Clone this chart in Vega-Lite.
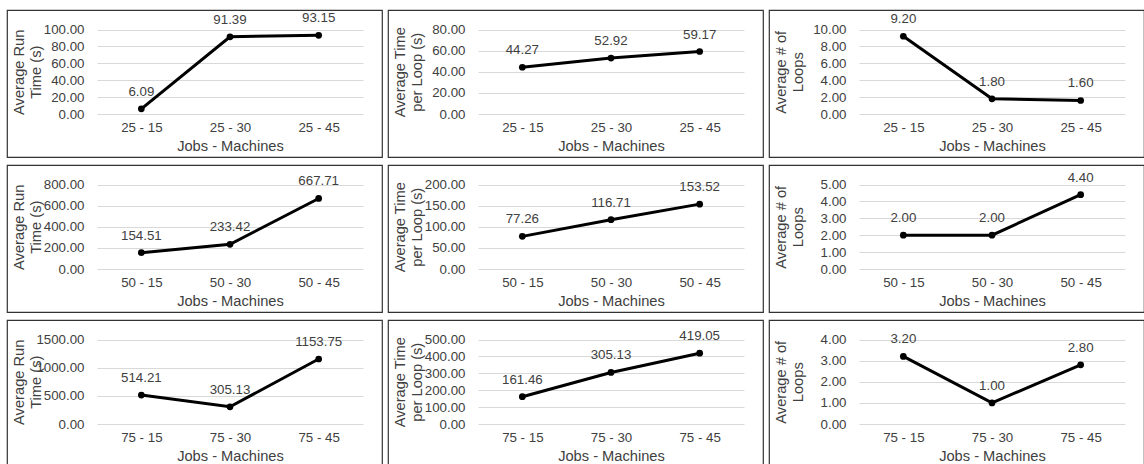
{
  "$schema": "https://vega.github.io/schema/vega-lite/v6.json",
  "padding": {"left": 6, "top": 9, "right": 0, "bottom": 0},
  "background": "white",
  "config": {
    "view": {"stroke": "#333333", "strokeWidth": 1.2},
    "font": "Liberation Sans",
    "axis": {
      "labelFont": "Liberation Sans", "labelFontSize": 13.3, "labelColor": "#404040",
      "titleFont": "Liberation Sans", "titleFontSize": 14.67, "titleColor": "#404040", "titleFontWeight": "normal",
      "titleLineHeight": 17, "ticks": false, "domain": false, "gridColor": "#d9d9d9", "gridWidth": 1
    },
    "axisX": {"grid": false, "labelAngle": 0, "offset": -43, "labelPadding": 6, "titlePadding": 5},
    "axisY": {"grid": true, "offset": 0, "labelPadding": -77, "titleX": 19, "format": ".2f"},
    "line": {"color": "black", "strokeWidth": 3},
    "point": {"color": "black", "filled": true, "size": 45, "opacity": 1},
    "text": {"font": "Liberation Sans", "fontSize": 13.3, "color": "#404040", "dy": -17}
  },
  "spacing": {"row": 6, "column": 4},
  "columns": 3,
  "datasets": {
    "p1": [{"config": "25 - 15", "value": 6.09}, {"config": "25 - 30", "value": 91.39}, {"config": "25 - 45", "value": 93.15}],
    "p2": [{"config": "25 - 15", "value": 44.27}, {"config": "25 - 30", "value": 52.92}, {"config": "25 - 45", "value": 59.17}],
    "p3": [{"config": "25 - 15", "value": 9.2}, {"config": "25 - 30", "value": 1.8}, {"config": "25 - 45", "value": 1.6}],
    "p4": [{"config": "50 - 15", "value": 154.51}, {"config": "50 - 30", "value": 233.42}, {"config": "50 - 45", "value": 667.71}],
    "p5": [{"config": "50 - 15", "value": 77.26}, {"config": "50 - 30", "value": 116.71}, {"config": "50 - 45", "value": 153.52}],
    "p6": [{"config": "50 - 15", "value": 2.0}, {"config": "50 - 30", "value": 2.0}, {"config": "50 - 45", "value": 4.4}],
    "p7": [{"config": "75 - 15", "value": 514.21}, {"config": "75 - 30", "value": 305.13}, {"config": "75 - 45", "value": 1153.75}],
    "p8": [{"config": "75 - 15", "value": 161.46}, {"config": "75 - 30", "value": 305.13}, {"config": "75 - 45", "value": 419.05}],
    "p9": [{"config": "75 - 15", "value": 3.2}, {"config": "75 - 30", "value": 1.0}, {"config": "75 - 45", "value": 2.8}]
  },
  "concat": [
    {
      "width": 375, "height": 147, "data": {"name": "p1"},
      "encoding": {
        "x": {"field": "config", "type": "ordinal", "sort": null, "scale": {"type": "point", "range": [90, 356], "padding": 0.5}, "axis": {"title": "Jobs - Machines"}},
        "y": {"field": "value", "type": "quantitative", "scale": {"domain": [0, 100], "range": [104, 19.5], "nice": false}, "axis": {"values": [0, 20, 40, 60, 80, 100], "title": ["Average Run", "Time (s)"]}}
      },
      "layer": [{"mark": "line", "encoding": {}}, {"mark": "point"}, {"mark": "text", "encoding": {"text": {"field": "value", "format": ".2f"}}}]
    },
    {
      "width": 375, "height": 147, "data": {"name": "p2"},
      "encoding": {
        "x": {"field": "config", "type": "ordinal", "sort": null, "scale": {"type": "point", "range": [90, 356], "padding": 0.5}, "axis": {"title": "Jobs - Machines"}},
        "y": {"field": "value", "type": "quantitative", "scale": {"domain": [0, 80], "range": [104, 19.5], "nice": false}, "axis": {"values": [0, 20, 40, 60, 80], "title": ["Average Time", "per Loop (s)"]}}
      },
      "layer": [{"mark": "line", "encoding": {}}, {"mark": "point"}, {"mark": "text", "encoding": {"text": {"field": "value", "format": ".2f"}}}]
    },
    {
      "width": 375, "height": 147, "data": {"name": "p3"},
      "encoding": {
        "x": {"field": "config", "type": "ordinal", "sort": null, "scale": {"type": "point", "range": [90, 356], "padding": 0.5}, "axis": {"title": "Jobs - Machines"}},
        "y": {"field": "value", "type": "quantitative", "scale": {"domain": [0, 10], "range": [104, 19.5], "nice": false}, "axis": {"values": [0, 2, 4, 6, 8, 10], "title": ["Average # of", "Loops"]}}
      },
      "layer": [{"mark": "line", "encoding": {}}, {"mark": "point"}, {"mark": "text", "encoding": {"text": {"field": "value", "format": ".2f"}}}]
    },
    {
      "width": 375, "height": 147, "data": {"name": "p4"},
      "encoding": {
        "x": {"field": "config", "type": "ordinal", "sort": null, "scale": {"type": "point", "range": [90, 356], "padding": 0.5}, "axis": {"title": "Jobs - Machines"}},
        "y": {"field": "value", "type": "quantitative", "scale": {"domain": [0, 800], "range": [104, 19.5], "nice": false}, "axis": {"values": [0, 200, 400, 600, 800], "title": ["Average Run", "Time (s)"]}}
      },
      "layer": [{"mark": "line", "encoding": {}}, {"mark": "point"}, {"mark": "text", "encoding": {"text": {"field": "value", "format": ".2f"}}}]
    },
    {
      "width": 375, "height": 147, "data": {"name": "p5"},
      "encoding": {
        "x": {"field": "config", "type": "ordinal", "sort": null, "scale": {"type": "point", "range": [90, 356], "padding": 0.5}, "axis": {"title": "Jobs - Machines"}},
        "y": {"field": "value", "type": "quantitative", "scale": {"domain": [0, 200], "range": [104, 19.5], "nice": false}, "axis": {"values": [0, 50, 100, 150, 200], "title": ["Average Time", "per Loop (s)"]}}
      },
      "layer": [{"mark": "line", "encoding": {}}, {"mark": "point"}, {"mark": "text", "encoding": {"text": {"field": "value", "format": ".2f"}}}]
    },
    {
      "width": 375, "height": 147, "data": {"name": "p6"},
      "encoding": {
        "x": {"field": "config", "type": "ordinal", "sort": null, "scale": {"type": "point", "range": [90, 356], "padding": 0.5}, "axis": {"title": "Jobs - Machines"}},
        "y": {"field": "value", "type": "quantitative", "scale": {"domain": [0, 5], "range": [104, 19.5], "nice": false}, "axis": {"values": [0, 1, 2, 3, 4, 5], "title": ["Average # of", "Loops"]}}
      },
      "layer": [{"mark": "line", "encoding": {}}, {"mark": "point"}, {"mark": "text", "encoding": {"text": {"field": "value", "format": ".2f"}}}]
    },
    {
      "width": 375, "height": 147, "data": {"name": "p7"},
      "encoding": {
        "x": {"field": "config", "type": "ordinal", "sort": null, "scale": {"type": "point", "range": [90, 356], "padding": 0.5}, "axis": {"title": "Jobs - Machines"}},
        "y": {"field": "value", "type": "quantitative", "scale": {"domain": [0, 1500], "range": [104, 19.5], "nice": false}, "axis": {"values": [0, 500, 1000, 1500], "title": ["Average Run", "Time (s)"]}}
      },
      "layer": [{"mark": "line", "encoding": {}}, {"mark": "point"}, {"mark": "text", "encoding": {"text": {"field": "value", "format": ".2f"}}}]
    },
    {
      "width": 375, "height": 147, "data": {"name": "p8"},
      "encoding": {
        "x": {"field": "config", "type": "ordinal", "sort": null, "scale": {"type": "point", "range": [90, 356], "padding": 0.5}, "axis": {"title": "Jobs - Machines"}},
        "y": {"field": "value", "type": "quantitative", "scale": {"domain": [0, 500], "range": [104, 19.5], "nice": false}, "axis": {"values": [0, 100, 200, 300, 400, 500], "title": ["Average Time", "per Loop (s)"]}}
      },
      "layer": [{"mark": "line", "encoding": {}}, {"mark": "point"}, {"mark": "text", "encoding": {"text": {"field": "value", "format": ".2f"}}}]
    },
    {
      "width": 375, "height": 147, "data": {"name": "p9"},
      "encoding": {
        "x": {"field": "config", "type": "ordinal", "sort": null, "scale": {"type": "point", "range": [90, 356], "padding": 0.5}, "axis": {"title": "Jobs - Machines"}},
        "y": {"field": "value", "type": "quantitative", "scale": {"domain": [0, 4], "range": [104, 19.5], "nice": false}, "axis": {"values": [0, 1, 2, 3, 4], "title": ["Average # of", "Loops"]}}
      },
      "layer": [{"mark": "line", "encoding": {}}, {"mark": "point"}, {"mark": "text", "encoding": {"text": {"field": "value", "format": ".2f"}}}]
    }
  ]
}
